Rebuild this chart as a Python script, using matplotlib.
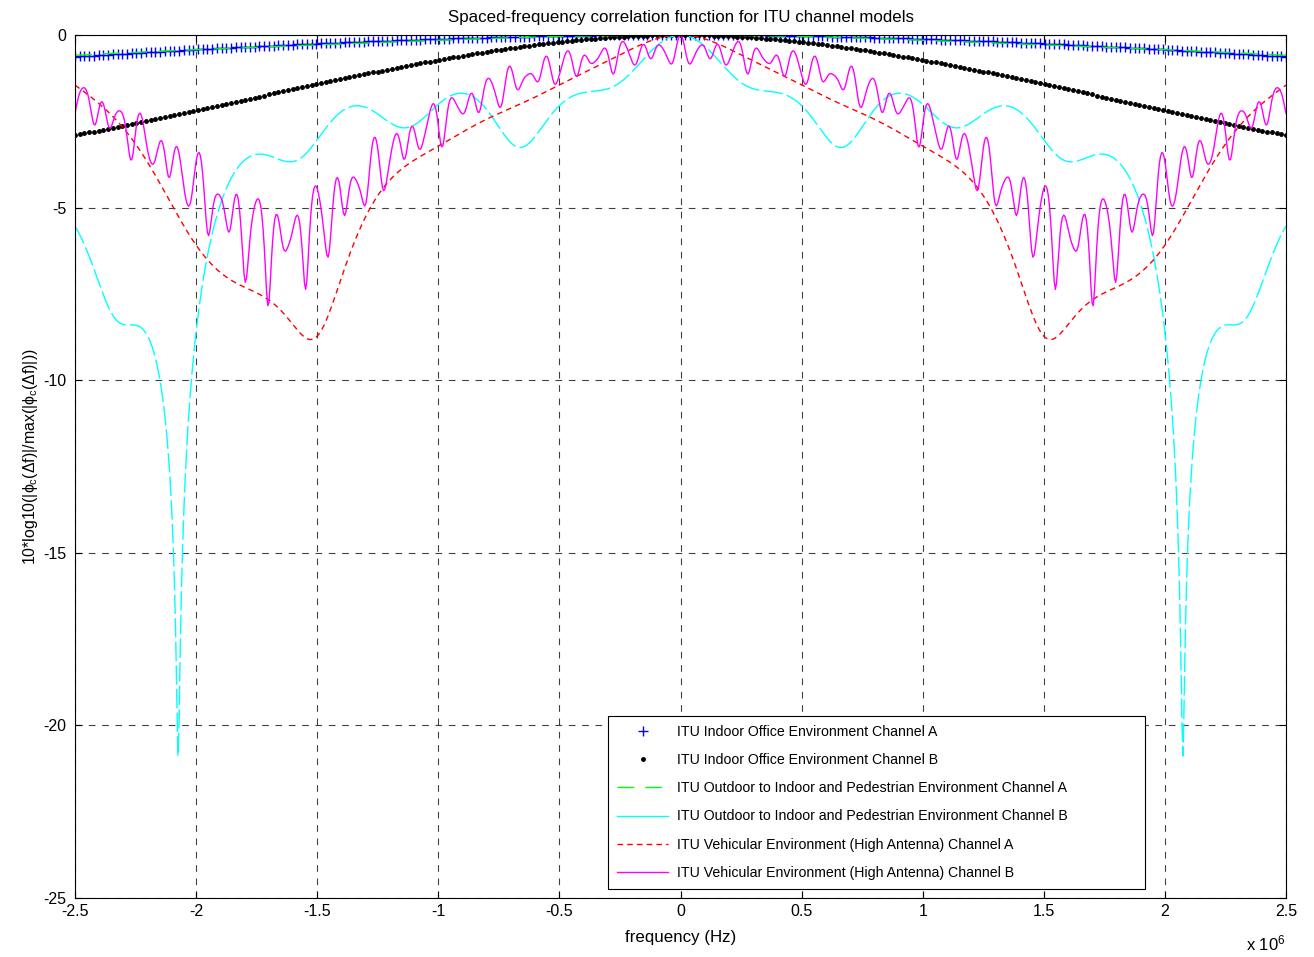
import numpy as np
import matplotlib
matplotlib.use("Agg")
import matplotlib.pyplot as plt

plt.rcParams['font.family'] = ['Liberation Sans', 'DejaVu Sans']
plt.rcParams['mathtext.fontset'] = 'custom'
plt.rcParams['mathtext.rm'] = 'Liberation Sans'
plt.rcParams['mathtext.it'] = 'Liberation Sans'
plt.rcParams['axes.unicode_minus'] = False

# ITU-R M.1225 channel models: tap delays (ns) and relative powers (dB)
indoor_a_delay = [0, 50, 110, 170, 290, 310]
indoor_a_power = [0, -3.0, -10.0, -18.0, -26.0, -32.0]
indoor_b_delay = [0, 100, 200, 300, 500, 700]
indoor_b_power = [0, -3.6, -7.2, -10.8, -18.0, -25.2]
ped_a_delay = [0, 110, 190, 410]
ped_a_power = [0, -9.7, -19.2, -22.8]
ped_b_delay = [0, 200, 800, 1200, 2300, 3700]
ped_b_power = [0, -0.9, -4.9, -8.0, -7.8, -23.9]
veh_a_delay = [0, 310, 710, 1090, 1730, 2510]
veh_a_power = [0, -1.0, -9.0, -10.0, -15.0, -20.0]
veh_b_delay = [0, 300, 8900, 12900, 17100, 20000]
veh_b_power = [-2.5, 0, -12.8, -10.0, -25.2, -16.0]

labels = [
    'ITU Indoor Office Environment Channel A',
    'ITU Indoor Office Environment Channel B',
    'ITU Outdoor to Indoor and Pedestrian Environment Channel A',
    'ITU Outdoor to Indoor and Pedestrian Environment Channel B',
    'ITU Vehicular Environment (High Antenna) Channel A',
    'ITU Vehicular Environment (High Antenna) Channel B',
]

f_span = 2.5e6
n_freq = 257
f = np.linspace(-f_span, f_span, n_freq)
f_fine = np.linspace(-f_span, f_span, 1025)


def sfcf(freq, delay_ns, power_db):
    tau = np.asarray(delay_ns) * 1e-9
    p = 10 ** (np.asarray(power_db) / 10.0)
    phi = np.abs(np.exp(-2j * np.pi * np.outer(freq, tau)) @ p)
    return 10 * np.log10(phi / phi.max())


fig = plt.figure(figsize=(13.14, 9.57), dpi=100)
ax = fig.add_axes([75 / 1314, 59 / 957, 1211 / 1314, 863 / 957])

ax.plot(f, sfcf(f, indoor_a_delay, indoor_a_power), 'b+', ms=7, mew=1.0, label=labels[0])
ax.plot(f, sfcf(f, indoor_b_delay, indoor_b_power), 'k.', ms=5, label=labels[1])
ax.plot(f, sfcf(f, ped_a_delay, ped_a_power), color='#00ff00', ls=(0, (12, 8)), lw=1, label=labels[2])
ax.plot(f_fine, sfcf(f_fine, ped_b_delay, ped_b_power), color='#00ffff', ls=(0, (14, 3)), lw=1, label=labels[3])
ax.plot(f_fine, sfcf(f_fine, veh_a_delay, veh_a_power), color='red', ls=(0, (4, 3)), lw=1, label=labels[4])
ax.plot(f_fine, sfcf(f_fine, veh_b_delay, veh_b_power), color='magenta', lw=1, label=labels[5])

ax.set_xlim(-2.5e6, 2.5e6)
ax.set_ylim(-25, 0)
xt = np.arange(-2.5, 2.51, 0.5)
ax.set_xticks(xt * 1e6)
ax.set_xticklabels(['%g' % v for v in xt])
ax.set_yticks(np.arange(-25, 1, 5))
ax.tick_params(direction='in', labelsize=11.5, length=5, top=True, right=True)
ax.tick_params(axis='x', pad=4.5)
ax.tick_params(axis='y', pad=6)
ax.grid(True, color='black', ls=(0, (6, 6)), lw=0.8, alpha=0.75)

ax.set_title('Spaced-frequency correlation function for ITU channel models', fontsize=12.2, pad=9.5)
ax.set_xlabel('frequency (Hz)', fontsize=12.2, labelpad=8)
ax.set_ylabel(r'10*log10(|$\phi_c$($\Delta$f)|/max(|$\phi_c$($\Delta$f)|))', fontsize=11.4)
ax.yaxis.set_label_coords(-0.037, 0.512)
ax.yaxis.label.set_verticalalignment('center')
fig.text(1246 / 1314, 1 - 943 / 957, r'x 10$^{6}$', fontsize=12, va='center')

leg = ax.legend(loc='lower left', bbox_to_anchor=(0.44, 0.0104, 0.4436, 0.2016), mode='expand',
                fontsize=10.2, frameon=True, fancybox=False, edgecolor='black', framealpha=1,
                borderaxespad=0, handlelength=3.6, handletextpad=0.65, labelspacing=1.0,
                borderpad=0.65)
leg.get_frame().set_linewidth(0.8)
leg.get_lines()[3].set_linestyle('-')

fig.savefig('out.png', dpi=100)
